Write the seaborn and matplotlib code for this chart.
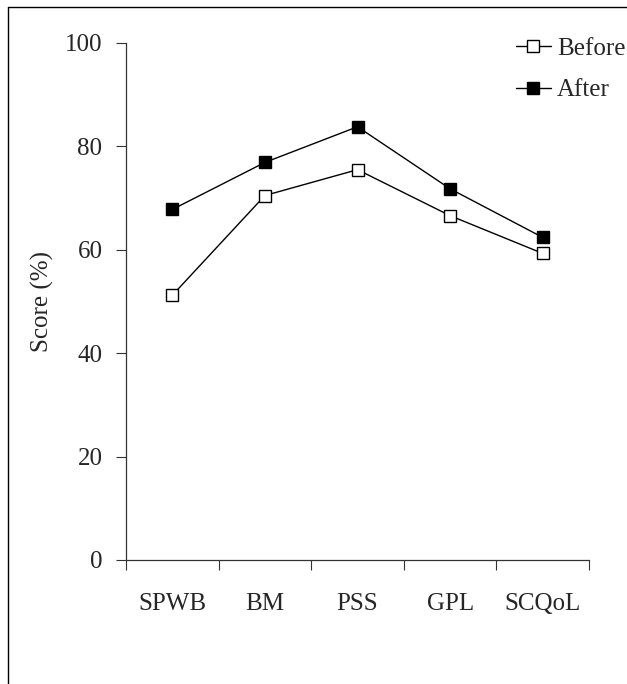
import matplotlib
matplotlib.use("Agg")
import matplotlib.pyplot as plt
import seaborn as sns
import numpy as np
import pandas as pd
from matplotlib.lines import Line2D

categories = ["SPWB", "BM", "PSS", "GPL", "SCQoL"]
before = [51.2, 70.5, 75.5, 66.6, 59.3]
after = [67.8, 76.9, 83.8, 71.8, 62.4]
yticks = [0, 20, 40, 60, 80, 100]

sns.set_theme(style="white")
plt.rcParams['font.family'] = ['Liberation Serif', 'DejaVu Serif']

df = pd.DataFrame({
    "pos": list(range(len(categories))) * 2,
    "Category": categories * 2,
    "Score": before + after,
    "When": ["Before"] * len(categories) + ["After"] * len(categories),
})

FS = 18
fig = plt.figure(figsize=(6.27, 6.84), dpi=100)
ax = fig.add_axes([126/627, 1 - 560/684, (589 - 126)/627, (560 - 43)/684])

sub_b = df[df.When == "Before"]
sub_a = df[df.When == "After"]
sns.lineplot(data=sub_b, x="pos", y="Score", ax=ax, color="black", lw=1.0,
             marker="s", markersize=8.5, markerfacecolor="white",
             markeredgecolor="black", markeredgewidth=1.0, sort=False, legend=False)
sns.lineplot(data=sub_a, x="pos", y="Score", ax=ax, color="black", lw=1.0,
             marker="s", markersize=8.5, markerfacecolor="black",
             markeredgecolor="black", markeredgewidth=1.0, sort=False, legend=False)

ax.set_xlim(-0.5, len(categories) - 0.5)
ax.set_ylim(0, 100)
ax.set_yticks(yticks)
ax.set_yticklabels([str(t) for t in yticks], fontsize=FS)
ax.set_xticks(np.arange(-0.5, len(categories)), minor=False)
ax.set_xticklabels([])
ax.set_xticks(np.arange(len(categories)), minor=True)
ax.set_xticklabels(categories, minor=True, fontsize=FS)
ax.tick_params(axis="x", which="major", direction="out", length=7, width=0.8, color="#333333", bottom=True)
ax.tick_params(axis="x", which="minor", length=0, pad=24)
ax.tick_params(axis="y", direction="out", length=7, width=0.8, color="#333333", left=True, pad=10)
ax.set_xlabel("")
ax.set_ylabel("Score (%)", fontsize=FS, labelpad=8)
for s in ["top", "right"]:
    ax.spines[s].set_visible(False)
for s in ["left", "bottom"]:
    ax.spines[s].set_color("#333333")
    ax.spines[s].set_linewidth(0.9)
ax.grid(False)

handles = [
    Line2D([], [], color="black", lw=1.0, marker="s", markersize=8.5,
           markerfacecolor="white", markeredgecolor="black"),
    Line2D([], [], color="black", lw=1.0, marker="s", markersize=8.5,
           markerfacecolor="black", markeredgecolor="black"),
]
fig.legend(handles, ["Before", "After"], loc="upper left",
           bbox_to_anchor=(503/627, 1 - 25/684), frameon=False, fontsize=FS,
           handlelength=1.4, handletextpad=0.25, labelspacing=0.75, borderpad=0)

# figure border (top and left edges)
fig.add_artist(Line2D([8/627, 1.0], [1 - 7/684, 1 - 7/684], transform=fig.transFigure,
                      color="black", lw=1.0))
fig.add_artist(Line2D([8/627, 8/627], [0.0, 1 - 7/684], transform=fig.transFigure,
                      color="black", lw=1.0))

fig.savefig("out.png", dpi=100)
